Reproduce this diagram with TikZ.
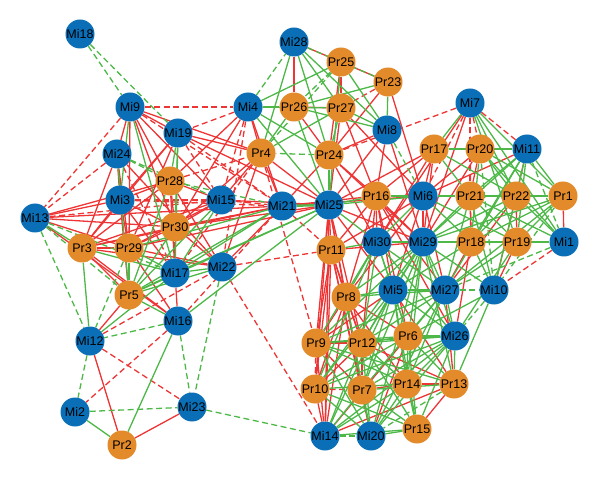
\documentclass[tikz,border=0pt]{standalone}
\usepackage{fontspec}
\setmainfont{Liberation Sans}
\pgfdeclarelayer{bg}
\pgfsetlayers{bg,main}
\definecolor{miblue}{HTML}{0A6FB6}
\definecolor{prorange}{HTML}{E38A2A}
\definecolor{ered}{HTML}{EE3535}
\definecolor{egreen}{HTML}{4DB848}
\tikzset{
  mi/.style={circle,fill=miblue,minimum size=29pt,inner sep=0pt,font=\fontsize{12.5}{13}\selectfont},
  pr/.style={circle,fill=prorange,minimum size=29pt,inner sep=0pt,font=\fontsize{12.5}{13}\selectfont},
  redS/.style={ered,line width=1.3pt},
  redD/.style={ered,line width=1.3pt,dash pattern=on 6pt off 3.5pt},
  grnS/.style={egreen,line width=1.3pt},
  grnD/.style={egreen,line width=1.3pt,dash pattern=on 6pt off 3.5pt},
}
\begin{document}
\begin{tikzpicture}[x=1pt,y=-1pt]
\useasboundingbox (0,0) rectangle (600,481);
% nodes
\foreach \n/\x/\y in {Mi18/80/34,Mi28/294/42,Mi7/470/103,Mi9/130/107,Mi4/248/107,Mi8/387/130,Mi19/178/133,Mi11/527/149,Mi24/117/154,Mi3/120/200,Mi15/221/200,Mi21/282/206,Mi25/329/205,Mi6/423/196,Mi13/35/218,Mi30/377/242,Mi29/423/242,Mi1/564/242,Mi17/175/273,Mi22/222/267,Mi16/178/321,Mi5/393/290,Mi27/445/290,Mi10/494/290,Mi12/90/341,Mi26/455/336,Mi2/75/412,Mi23/192/407,Mi14/325/436,Mi20/371/436}
  \node[mi] (\n) at (\x,\y) {\n};
\foreach \n/\x/\y in {Pr25/341/62,Pr23/388/82,Pr26/294/107,Pr27/341/108,Pr4/261/153,Pr24/329/155,Pr17/434/149,Pr20/480/149,Pr28/170/181,Pr16/376/196,Pr21/470/196,Pr22/516/196,Pr1/563/196,Pr30/175/227,Pr3/82/248,Pr29/129/248,Pr18/471/242,Pr19/517/242,Pr11/331/250,Pr5/129/295,Pr8/346/297,Pr9/316/343,Pr12/362/343,Pr6/408/336,Pr10/315/389,Pr7/362/390,Pr14/407/384,Pr13/454/384,Pr2/122/445,Pr15/417/429}
  \node[pr] (\n) at (\x,\y) {\n};
\begin{pgfonlayer}{bg}
% red solid
\foreach \a/\b in {Mi9/Mi19,Mi9/Mi24,Mi9/Pr28,Mi9/Pr30,Mi9/Pr4,Mi9/Mi15,Mi9/Pr29,Mi4/Pr4,Mi4/Mi21,Mi4/Pr28,Mi4/Pr30,Mi19/Pr4,Mi19/Pr3,Mi19/Mi25,Mi19/Pr29,Mi19/Mi3,Mi24/Mi3,Mi24/Pr29,Mi24/Pr3,Mi24/Mi22,Pr28/Mi3,Pr28/Mi15,Pr28/Pr30,Pr28/Mi17,Pr28/Pr3,Pr28/Mi22,Pr28/Mi13,Mi3/Mi13,Mi3/Pr3,Mi3/Pr29,Mi3/Pr5,Mi3/Mi17,Mi3/Pr30,Mi13/Pr29,Mi13/Pr30,Mi13/Mi21,Mi13/Mi16,Mi15/Pr30,Mi15/Pr3,Mi15/Pr29,Mi15/Mi25,Pr30/Pr3,Pr30/Pr29,Pr30/Mi17,Pr30/Mi22,Pr30/Mi21,Pr30/Mi25,Pr3/Pr29,Pr3/Pr5,Pr3/Mi16,Pr3/Mi22,Pr3/Mi21,Pr29/Mi16,Pr29/Mi22,Pr29/Mi25,Pr5/Mi12,Mi17/Mi16,Mi22/Mi21,Mi12/Pr2,Pr2/Mi23,Mi28/Pr25,Mi28/Pr26,Pr25/Pr23,Pr25/Pr27,Pr25/Pr24,Pr23/Pr24,Pr23/Mi6,Pr26/Pr27,Pr26/Pr24,Pr27/Mi25,Pr27/Pr16,Pr27/Mi6,Mi8/Pr24,Mi8/Mi25,Mi8/Pr16,Mi8/Mi29,Pr24/Mi21,Pr24/Pr16,Pr24/Mi30,Pr24/Mi29,Pr4/Mi21,Pr4/Mi25,Pr4/Mi15,Pr4/Mi22,Pr4/Pr30,Mi25/Pr11,Mi25/Pr8,Mi25/Pr9,Mi25/Pr10,Mi25/Mi14,Mi25/Mi29,Mi25/Pr12,Mi25/Pr7,Mi25/Mi5,Mi21/Mi6,Mi21/Pr16,Mi7/Mi29,Mi7/Mi30,Pr17/Pr20,Pr17/Mi6,Pr17/Mi25,Pr17/Pr16,Pr17/Mi29,Pr17/Mi30,Pr20/Mi11,Pr20/Pr21,Pr20/Mi6,Pr20/Mi29,Mi11/Mi6,Mi11/Mi10,Mi6/Pr16,Mi6/Mi29,Mi6/Mi5,Mi6/Mi27,Mi6/Pr11,Mi6/Pr8,Pr21/Pr18,Pr22/Pr19,Pr22/Mi27,Pr1/Mi1,Mi1/Pr19,Pr19/Mi10,Pr18/Mi29,Pr18/Mi27,Pr18/Mi26,Mi29/Pr16,Mi29/Pr11,Mi30/Pr16,Pr16/Pr11,Pr16/Pr8,Pr16/Mi5,Pr16/Mi27,Pr16/Pr6,Pr16/Pr12,Pr16/Mi26,Pr11/Pr8,Pr11/Pr9,Pr11/Pr10,Pr11/Mi14,Pr11/Pr12,Pr11/Pr7,Pr11/Mi20,Mi5/Pr9,Mi5/Pr13,Mi27/Pr13,Pr8/Pr9,Pr8/Pr12,Pr8/Pr6,Pr8/Pr10,Pr8/Pr7,Pr8/Mi14,Pr8/Pr14,Pr9/Pr12,Pr9/Pr7,Pr9/Mi14,Pr12/Pr7,Pr12/Pr10,Pr12/Pr13,Pr6/Pr7,Pr6/Mi14,Pr6/Mi20,Pr10/Mi14,Pr7/Pr14,Pr14/Pr13,Pr13/Pr15,Pr13/Mi14}
  \draw[redS] (\a) -- (\b);
% red dashed
\foreach \a/\b in {Mi9/Mi4,Mi9/Mi13,Mi9/Mi21,Mi4/Mi19,Mi4/Mi15,Mi4/Mi22,Mi19/Mi15,Mi19/Mi21,Mi24/Mi13,Mi24/Mi17,Pr28/Pr4,Mi3/Mi15,Mi3/Mi21,Mi13/Mi15,Mi15/Mi21,Mi16/Mi2,Mi16/Mi21,Mi22/Mi14,Mi12/Mi23,Mi12/Mi22,Mi21/Pr11,Mi22/Pr11,Pr23/Pr27,Pr4/Mi17,Pr4/Pr9,Mi7/Pr20,Mi7/Mi11,Mi7/Pr21,Mi7/Mi6,Mi7/Pr18,Mi7/Pr24,Pr22/Pr1,Mi1/Mi10,Pr9/Pr10,Pr10/Pr7}
  \draw[redD] (\a) -- (\b);
% green solid
\foreach \a/\b in {Mi9/Mi3,Mi9/Mi17,Mi4/Pr26,Mi4/Pr25,Mi4/Pr27,Mi4/Mi25,Mi4/Pr24,Mi19/Pr28,Mi19/Pr30,Mi19/Mi17,Mi24/Pr5,Pr28/Pr5,Mi13/Pr3,Mi15/Pr5,Mi15/Mi17,Pr30/Pr5,Pr3/Mi17,Pr3/Mi12,Pr29/Pr5,Pr29/Mi17,Pr29/Mi21,Pr5/Mi17,Pr5/Mi22,Pr5/Mi16,Pr5/Mi21,Pr5/Mi25,Mi17/Mi22,Mi17/Mi12,Mi17/Mi21,Mi17/Mi25,Mi16/Mi25,Mi16/Pr2,Mi2/Pr2,Mi28/Pr27,Mi28/Pr4,Mi28/Mi8,Mi28/Pr24,Pr25/Mi8,Pr25/Mi25,Pr23/Mi8,Pr23/Pr26,Pr26/Pr4,Pr26/Mi25,Pr26/Mi8,Pr27/Mi8,Pr27/Pr24,Pr27/Pr4,Pr24/Mi25,Mi25/Pr16,Mi25/Mi6,Mi25/Mi30,Mi7/Pr17,Mi7/Pr22,Mi7/Pr1,Mi7/Pr19,Mi7/Mi1,Pr17/Pr21,Pr17/Pr22,Pr17/Mi11,Pr20/Pr22,Pr20/Pr1,Pr20/Pr18,Pr20/Mi1,Mi11/Pr22,Mi11/Pr1,Mi11/Pr21,Mi11/Pr19,Mi11/Pr18,Mi11/Mi29,Mi11/Mi27,Mi6/Mi30,Mi6/Pr18,Mi6/Pr19,Pr21/Pr22,Pr21/Mi29,Pr21/Mi27,Pr21/Mi10,Pr21/Pr1,Pr21/Mi1,Pr21/Pr19,Pr22/Mi1,Pr22/Mi10,Pr22/Mi29,Pr22/Pr18,Pr1/Pr19,Pr1/Mi29,Pr1/Pr18,Pr1/Mi27,Mi1/Pr18,Mi1/Mi29,Pr19/Pr18,Pr19/Mi27,Pr19/Mi29,Pr19/Mi26,Pr18/Mi10,Pr18/Mi5,Mi29/Mi27,Mi29/Mi5,Mi29/Mi26,Mi29/Pr6,Mi29/Pr12,Mi29/Pr8,Mi29/Pr9,Mi29/Pr14,Mi29/Pr13,Mi29/Pr7,Mi29/Mi10,Mi29/Pr10,Mi29/Mi20,Mi30/Pr11,Mi30/Pr8,Mi30/Mi5,Mi30/Mi27,Mi30/Pr12,Mi30/Pr9,Mi30/Pr6,Mi30/Mi26,Mi30/Pr10,Mi5/Mi27,Mi5/Pr8,Mi5/Pr12,Mi5/Pr6,Mi5/Mi26,Mi5/Pr14,Mi5/Pr7,Mi5/Mi14,Mi5/Pr10,Mi5/Pr15,Mi27/Mi26,Mi27/Pr6,Mi27/Pr12,Mi27/Pr14,Mi27/Pr8,Mi27/Pr9,Mi27/Pr7,Mi27/Mi20,Mi10/Pr6,Mi10/Pr13,Mi26/Pr12,Mi26/Pr13,Mi26/Pr14,Mi26/Pr15,Mi26/Pr7,Mi26/Pr9,Mi26/Pr10,Mi26/Mi14,Mi26/Mi20,Pr8/Mi20,Pr9/Pr6,Pr9/Pr14,Pr9/Pr13,Pr9/Mi20,Pr12/Pr6,Pr12/Pr14,Pr12/Mi14,Pr12/Mi20,Pr12/Pr15,Pr6/Pr14,Pr6/Pr13,Pr6/Pr10,Pr6/Pr15,Pr10/Mi20,Pr10/Pr14,Pr10/Pr15,Pr7/Mi14,Pr7/Mi20,Pr7/Pr15,Pr7/Pr13,Pr14/Mi14,Pr14/Mi20,Pr14/Pr15,Mi14/Pr15,Mi20/Pr15}
  \draw[grnS] (\a) -- (\b);
% thick green
\foreach \a/\b in {Mi6/Pr21,Mi29/Mi30,Mi26/Pr6,Mi21/Mi25,Pr16/Mi6}
  \draw[egreen,line width=2.4pt] (\a) -- (\b);
% green dashed
\foreach \a/\b in {Mi18/Mi9,Mi18/Mi19,Mi4/Mi28,Mi24/Pr28,Mi24/Mi15,Pr28/Mi21,Mi13/Pr5,Mi13/Mi12,Mi13/Mi17,Pr29/Mi12,Mi16/Mi12,Mi16/Mi23,Mi22/Mi23,Mi12/Mi2,Mi2/Mi23,Mi23/Mi14,Mi28/Pr23,Pr25/Pr26,Pr25/Pr4,Mi8/Mi6,Pr24/Pr4,Pr20/Mi10,Mi11/Mi1,Pr1/Mi10,Mi1/Mi27,Mi27/Mi10,Mi10/Mi26,Pr13/Mi20,Mi14/Mi20}
  \draw[grnD] (\a) -- (\b);
\end{pgfonlayer}
\end{tikzpicture}
\end{document}
